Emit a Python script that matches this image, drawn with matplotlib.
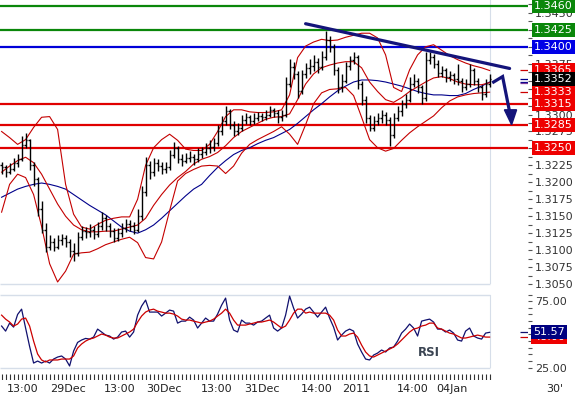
import numpy as np
import matplotlib
matplotlib.use("Agg")
import matplotlib.pyplot as plt
from matplotlib.transforms import blended_transform_factory
from matplotlib.patches import Polygon
from matplotlib.ticker import FuncFormatter, FixedLocator

# ---------------- data (hourly bars, EUR/USD-like 30' chart) ----------------
opens = [1.3225, 1.3222, 1.3215, 1.3220, 1.3228, 1.3235, 1.3255, 1.3262, 1.3225, 1.3205,
         1.3160, 1.3130, 1.3105, 1.3112, 1.3105, 1.3115, 1.3118, 1.3112, 1.3098, 1.3095,
         1.3120, 1.3128, 1.3126, 1.3130, 1.3124, 1.3135, 1.3148, 1.3135, 1.3128, 1.3118,
         1.3125, 1.3132, 1.3138, 1.3135, 1.3130, 1.3150, 1.3185, 1.3225, 1.3215, 1.3228,
         1.3224, 1.3220, 1.3222, 1.3240, 1.3250, 1.3235, 1.3232, 1.3236, 1.3238, 1.3235,
         1.3242, 1.3245, 1.3250, 1.3252, 1.3258, 1.3275, 1.3290, 1.3305, 1.3285, 1.3275,
         1.3280, 1.3292, 1.3296, 1.3290, 1.3295, 1.3298, 1.3296, 1.3300, 1.3306, 1.3302,
         1.3296, 1.3300, 1.3345, 1.3370, 1.3360, 1.3335, 1.3360, 1.3368, 1.3372, 1.3378,
         1.3370, 1.3385, 1.3410, 1.3400, 1.3365, 1.3340, 1.3350, 1.3372, 1.3380, 1.3385,
         1.3345, 1.3322, 1.3295, 1.3280, 1.3290, 1.3295, 1.3300, 1.3292, 1.3270, 1.3295,
         1.3305, 1.3315, 1.3322, 1.3345, 1.3350, 1.3340, 1.3325, 1.3380, 1.3385, 1.3375,
         1.3362, 1.3365, 1.3355, 1.3358, 1.3352, 1.3350, 1.3340, 1.3345, 1.3365, 1.3350,
         1.3340, 1.3330, 1.3345]
highs = [1.3230, 1.3226, 1.3228, 1.3236, 1.3242, 1.3268, 1.3273, 1.3264, 1.3230, 1.3208,
         1.3172, 1.3140, 1.3122, 1.3118, 1.3122, 1.3124, 1.3122, 1.3116, 1.3110, 1.3126,
         1.3136, 1.3134, 1.3138, 1.3135, 1.3142, 1.3156, 1.3152, 1.3140, 1.3132, 1.3132,
         1.3140, 1.3146, 1.3144, 1.3142, 1.3160, 1.3195, 1.3238, 1.3232, 1.3236, 1.3234,
         1.3230, 1.3230, 1.3248, 1.3259, 1.3254, 1.3242, 1.3244, 1.3246, 1.3242, 1.3250,
         1.3252, 1.3258, 1.3262, 1.3265, 1.3284, 1.3298, 1.3312, 1.3308, 1.3290, 1.3288,
         1.3300, 1.3302, 1.3300, 1.3302, 1.3304, 1.3302, 1.3306, 1.3312, 1.3310, 1.3306,
         1.3306, 1.3355, 1.3382, 1.3378, 1.3364, 1.3366, 1.3376, 1.3382, 1.3388, 1.3384,
         1.3394, 1.3423, 1.3416, 1.3404, 1.3370, 1.3360, 1.3378, 1.3386, 1.3392, 1.3388,
         1.3350, 1.3328, 1.3300, 1.3298, 1.3302, 1.3306, 1.3304, 1.3296, 1.3302, 1.3312,
         1.3322, 1.3330, 1.3355, 1.3360, 1.3354, 1.3344, 1.3392, 1.3392, 1.3390, 1.3380,
         1.3372, 1.3368, 1.3364, 1.3362, 1.3375, 1.3354, 1.3352, 1.3375, 1.3368, 1.3354,
         1.3344, 1.3352, 1.3360]
lows = [1.3212, 1.3208, 1.3212, 1.3216, 1.3222, 1.3232, 1.3250, 1.3218, 1.3194, 1.3150,
        1.3125, 1.3097, 1.3100, 1.3098, 1.3102, 1.3108, 1.3104, 1.3090, 1.3084, 1.3092,
        1.3115, 1.3118, 1.3120, 1.3116, 1.3120, 1.3130, 1.3128, 1.3120, 1.3112, 1.3114,
        1.3120, 1.3126, 1.3128, 1.3124, 1.3126, 1.3145, 1.3180, 1.3205, 1.3210, 1.3216,
        1.3212, 1.3214, 1.3218, 1.3236, 1.3228, 1.3224, 1.3228, 1.3230, 1.3226, 1.3230,
        1.3236, 1.3240, 1.3244, 1.3246, 1.3254, 1.3270, 1.3285, 1.3278, 1.3268, 1.3270,
        1.3276, 1.3286, 1.3284, 1.3286, 1.3290, 1.3290, 1.3292, 1.3296, 1.3296, 1.3288,
        1.3290, 1.3296, 1.3340, 1.3352, 1.3325, 1.3330, 1.3354, 1.3360, 1.3364, 1.3362,
        1.3366, 1.3380, 1.3392, 1.3358, 1.3332, 1.3334, 1.3346, 1.3366, 1.3374, 1.3338,
        1.3314, 1.3288, 1.3275, 1.3276, 1.3284, 1.3288, 1.3284, 1.3253, 1.3265, 1.3290,
        1.3298, 1.3310, 1.3318, 1.3340, 1.3332, 1.3315, 1.3320, 1.3374, 1.3368, 1.3356,
        1.3356, 1.3348, 1.3350, 1.3345, 1.3344, 1.3334, 1.3336, 1.3340, 1.3344, 1.3334,
        1.3322, 1.3326, 1.3340]
closes = [1.3222, 1.3215, 1.3220, 1.3228, 1.3235, 1.3255, 1.3262, 1.3225, 1.3205, 1.3160,
          1.3130, 1.3105, 1.3112, 1.3105, 1.3115, 1.3118, 1.3112, 1.3098, 1.3095, 1.3120,
          1.3128, 1.3126, 1.3130, 1.3124, 1.3135, 1.3148, 1.3135, 1.3128, 1.3118, 1.3125,
          1.3132, 1.3138, 1.3135, 1.3130, 1.3150, 1.3185, 1.3225, 1.3215, 1.3228, 1.3224,
          1.3220, 1.3222, 1.3240, 1.3250, 1.3235, 1.3232, 1.3236, 1.3238, 1.3235, 1.3242,
          1.3245, 1.3250, 1.3252, 1.3258, 1.3275, 1.3290, 1.3305, 1.3285, 1.3275, 1.3280,
          1.3292, 1.3296, 1.3290, 1.3295, 1.3298, 1.3296, 1.3300, 1.3306, 1.3302, 1.3296,
          1.3300, 1.3345, 1.3370, 1.3360, 1.3335, 1.3360, 1.3368, 1.3372, 1.3378, 1.3370,
          1.3385, 1.3410, 1.3400, 1.3365, 1.3340, 1.3350, 1.3372, 1.3380, 1.3385, 1.3345,
          1.3322, 1.3295, 1.3280, 1.3290, 1.3295, 1.3300, 1.3292, 1.3270, 1.3295, 1.3305,
          1.3315, 1.3322, 1.3345, 1.3350, 1.3340, 1.3325, 1.3380, 1.3385, 1.3375, 1.3362,
          1.3365, 1.3355, 1.3358, 1.3352, 1.3350, 1.3340, 1.3345, 1.3365, 1.3350, 1.3340,
          1.3330, 1.3345, 1.3352]

# indicator lines, one value every two bars
bb_upper = [1.3275, 1.3266, 1.3256, 1.3263, 1.3281, 1.3296, 1.3297, 1.3278, 1.3197, 1.3153,
            1.3134, 1.3131, 1.3138, 1.3144, 1.3147, 1.3149, 1.3149, 1.3175, 1.3225, 1.3251,
            1.3263, 1.3271, 1.3262, 1.3249, 1.3247, 1.3247, 1.3256, 1.3275, 1.3297, 1.3307,
            1.3307, 1.3304, 1.3303, 1.3303, 1.3304, 1.3307, 1.3329, 1.3384, 1.3401, 1.3407,
            1.3411, 1.3409, 1.3410, 1.3414, 1.3417, 1.3420, 1.3420, 1.3413, 1.3388, 1.3340,
            1.3334, 1.3366, 1.3388, 1.3400, 1.3403, 1.3395, 1.3387, 1.3381, 1.3376, 1.3372,
            1.3369, 1.3365]
bb_mid = [1.3215, 1.3224, 1.3232, 1.3237, 1.3229, 1.3212, 1.3190, 1.3168, 1.3150, 1.3137,
          1.3130, 1.3127, 1.3127, 1.3128, 1.3128, 1.3131, 1.3134, 1.3137, 1.3147, 1.3166,
          1.3182, 1.3196, 1.3207, 1.3216, 1.3227, 1.3234, 1.3238, 1.3244, 1.3254, 1.3266,
          1.3275, 1.3281, 1.3287, 1.3293, 1.3296, 1.3297, 1.3301, 1.3322, 1.3345, 1.3360,
          1.3369, 1.3373, 1.3376, 1.3378, 1.3378, 1.3369, 1.3348, 1.3334, 1.3322, 1.3318,
          1.3325, 1.3334, 1.3341, 1.3348, 1.3354, 1.3356, 1.3353, 1.3348, 1.3345, 1.3344,
          1.3344, 1.3347]
bb_lower = [1.3156, 1.3197, 1.3212, 1.3207, 1.3182, 1.3135, 1.3080, 1.3053, 1.3069, 1.3094,
            1.3096, 1.3097, 1.3102, 1.3108, 1.3112, 1.3116, 1.3119, 1.3111, 1.3089, 1.3087,
            1.3112, 1.3158, 1.3202, 1.3213, 1.3219, 1.3224, 1.3225, 1.3224, 1.3213, 1.3224,
            1.3243, 1.3256, 1.3263, 1.3269, 1.3275, 1.3282, 1.3271, 1.3256, 1.3285, 1.3316,
            1.3332, 1.3337, 1.3338, 1.3340, 1.3328, 1.3296, 1.3263, 1.3251, 1.3246, 1.3250,
            1.3262, 1.3273, 1.3282, 1.3290, 1.3298, 1.3310, 1.3320, 1.3326, 1.3329, 1.3331,
            1.3332, 1.3333]
ma_blue = [1.3178, 1.3184, 1.3190, 1.3194, 1.3197, 1.3199, 1.3197, 1.3194, 1.3190, 1.3182,
           1.3174, 1.3166, 1.3159, 1.3152, 1.3143, 1.3134, 1.3128, 1.3125, 1.3130, 1.3137,
           1.3147, 1.3158, 1.3169, 1.3180, 1.3190, 1.3197, 1.3210, 1.3222, 1.3232, 1.3241,
           1.3247, 1.3251, 1.3257, 1.3262, 1.3266, 1.3272, 1.3278, 1.3287, 1.3297, 1.3307,
           1.3316, 1.3326, 1.3335, 1.3342, 1.3348, 1.3351, 1.3351, 1.3350, 1.3348, 1.3345,
           1.3342, 1.3338, 1.3334, 1.3331, 1.3329, 1.3329, 1.3328, 1.3328, 1.3331, 1.3337,
           1.3342, 1.3348]

rsi = [56.3, 52.5, 58.5, 55.5, 65.0, 69.0, 54.8, 41.0, 28.5, 30.0,
       28.5, 30.0, 28.5, 31.5, 33.0, 33.8, 31.5, 26.3, 37.5, 44.0,
       45.8, 47.0, 46.5, 48.0, 54.0, 51.8, 49.5, 48.8, 46.5, 48.0,
       51.8, 52.5, 48.0, 51.8, 64.5, 71.3, 75.8, 66.8, 66.8, 66.8,
       63.8, 66.0, 68.3, 67.5, 58.5, 60.0, 60.0, 63.0, 60.8, 54.8,
       58.5, 62.3, 60.0, 60.0, 65.3, 72.0, 77.3, 60.8, 53.3, 51.8,
       60.8, 58.5, 58.5, 57.0, 59.3, 60.0, 62.3, 64.5, 54.8, 52.5,
       54.8, 64.5, 78.8, 69.8, 62.3, 65.3, 69.0, 70.5, 66.8, 63.0,
       66.8, 70.5, 62.3, 55.5, 45.8, 49.5, 52.5, 54.0, 52.5, 42.8,
       36.8, 31.5, 30.8, 34.5, 36.0, 38.3, 36.8, 39.8, 40.5, 45.0,
       51.0, 54.0, 57.8, 54.8, 48.8, 60.0, 60.8, 61.5, 59.3, 54.0,
       54.0, 51.8, 53.3, 51.0, 45.8, 45.0, 52.5, 54.8, 48.8, 47.3,
       46.5, 51.0, 51.57]
rsi_ma = [64.5, 61.5, 59.3, 56.3, 57.8, 61.5, 62.3, 56.3, 45.0, 35.3,
          30.8, 29.3, 30.8, 30.8, 30.8, 31.5, 31.5, 31.5, 33.8, 39.8,
          42.8, 45.0, 46.5, 47.3, 48.8, 50.3, 49.5, 48.0, 47.3, 47.3,
          48.8, 50.3, 51.8, 54.0, 59.3, 63.8, 66.8, 68.3, 69.0, 67.5,
          66.8, 66.0, 66.0, 65.3, 63.8, 61.5, 60.8, 60.8, 60.0, 59.3,
          58.5, 59.3, 60.0, 61.5, 63.8, 66.0, 69.0, 66.0, 60.8, 57.0,
          57.0, 57.0, 57.8, 58.5, 59.3, 59.3, 60.0, 60.8, 59.3, 57.0,
          54.8, 56.3, 60.8, 66.0, 69.0, 69.0, 66.0, 66.8, 66.0, 66.0,
          66.0, 66.0, 64.5, 60.8, 53.3, 48.8, 48.8, 50.3, 51.0, 48.0,
          42.0, 36.8, 33.8, 33.0, 34.5, 36.0, 37.5, 39.0, 40.5, 42.8,
          45.8, 48.8, 51.8, 54.0, 54.8, 56.3, 57.0, 58.5, 58.5, 54.8,
          54.0, 52.5, 51.0, 50.3, 48.8, 47.3, 47.3, 48.0, 48.8, 49.5,
          48.8, 48.0, 48.0]

level_values = [1.3460, 1.3425, 1.3400, 1.3315, 1.3285, 1.3250]
level_colors = ['#0a870a', '#0a870a', '#0000d8', '#e00000', '#e00000', '#e00000']

box_labels = ['1.3460', '1.3425', '1.3400', '1.3365', '1.3333', '1.3315', '1.3285', '1.3250', '1.3352']
box_values = [1.3460, 1.3425, 1.3400, 1.3365, 1.3333, 1.3315, 1.3285, 1.3250, 1.3352]
box_colors = ['#0a870a', '#0a870a', '#0000e6', '#ee0000', '#ee0000', '#ee0000', '#ee0000', '#ee0000', '#000000']

# axis labels that sit fully behind a value box in the reference
hidden_price_labels = ['1.3250', '1.3325', '1.3350', '1.3400', '1.3425']

trend_x = [76, 127]
trend_y = [1.3434, 1.3368]
arrow_x = [123, 125.25, 127]
arrow_y = [1.3348, 1.3356, 1.3304]
head_x = [125.7, 128.75, 127.5]
head_y = [1.3307, 1.3307, 1.3285]

time_labels = ['13:00', '29Dec', '13:00', '30Dec', '13:00', '31Dec', '14:00', '2011', '14:00', '04Jan']
time_pos = [5.25, 16.6, 29.4, 40.5, 53.75, 65.0, 78.75, 88.75, 102.75, 112.5]

# ---------------- layout ----------------
W, H = 576, 398
fig = plt.figure(figsize=(W / 100, H / 100), dpi=100)
fig.patch.set_facecolor('white')


def rect(x0, y0, x1, y1):
    return [x0 / W, 1 - y1 / H, (x1 - x0) / W, (y1 - y0) / H]


ax = fig.add_axes(rect(0, 0, 528, 284))
ax_r = fig.add_axes(rect(0, 294.5, 528, 367.7))
ax_t = fig.add_axes(rect(0, 374, 528, 380))

XL = (-0.4, 131.6)
GRID = '#d6dee9'
NAVY = '#14147a'

x = np.arange(len(closes))
bx = np.arange(0, len(closes), 2)

# ---------------- main price panel ----------------
ax.set_xlim(*XL)
ax.set_ylim(1.3050, 1.3469)
for s in ax.spines.values():
    s.set_visible(False)
ax.set_xticks([])
ax.yaxis.tick_right()
ax.yaxis.set_major_locator(FixedLocator(np.round(np.arange(1.3050, 1.34601, 0.0025), 4)))
ax.yaxis.set_minor_locator(FixedLocator(np.round(np.arange(1.30625, 1.3469, 0.0025), 5)))


def price_fmt(v, pos):
    s = f'{v:.4f}'
    return '' if s in hidden_price_labels else s


ax.yaxis.set_major_formatter(FuncFormatter(price_fmt))
ax.tick_params(axis='y', which='both', direction='out', length=3, width=0.8,
               colors='#555555', labelcolor='#333333', labelsize=8, pad=2)

ax.axvline(122, color=GRID, lw=0.8, zorder=0)
ax.hlines(1.3050, XL[0], 122, color=GRID, lw=1.0, clip_on=False, zorder=0)

for v, c in zip(level_values, level_colors):
    ax.axhline(v, color=c, lw=1.6, zorder=2)

ax.plot(bx, ma_blue, color='#00008b', lw=0.8, zorder=2.2)
ax.plot(bx, bb_upper, color='#c40000', lw=0.8, zorder=2.2)
ax.plot(bx, bb_mid, color='#c40000', lw=0.8, zorder=2.2)
ax.plot(bx, bb_lower, color='#c40000', lw=0.8, zorder=2.2)

ax.vlines(x, lows, highs, color='black', lw=1.0, zorder=3)
ax.hlines(opens, x - 0.45, x, color='black', lw=1.0, zorder=3)
ax.hlines(closes, x, x + 0.45, color='black', lw=1.0, zorder=3)

ax.plot(trend_x, trend_y, color=NAVY, lw=2.3, solid_capstyle='round', zorder=4)
ax.plot(arrow_x, arrow_y, color=NAVY, lw=2.3, solid_joinstyle='miter', zorder=4)
ax.add_patch(Polygon(list(zip(head_x, head_y)), closed=True, fc=NAVY, ec=NAVY, zorder=4))

ax.hlines([bb_upper[-1], closes[-1], ma_blue[-1], bb_mid[-1], bb_lower[-1]], 129.5, 131.6,
          colors=['#cc0000', '#00008b', '#00008b', '#7a3a9a', '#cc0000'], lw=0.9, zorder=2)

trans = blended_transform_factory(fig.transFigure, ax.transData)
for lab, v, c in zip(box_labels, box_values, box_colors):
    ax.text(553.5 / W, v, lab, transform=trans, ha='center', va='center', color='white',
            fontsize=8, zorder=6, clip_on=False,
            bbox=dict(boxstyle='square,pad=0.18', fc=c, ec='none'))

# ---------------- RSI panel ----------------
ax_r.set_xlim(*XL)
ax_r.set_ylim(25, 80)
for s in ax_r.spines.values():
    s.set_visible(False)
ax_r.set_xticks([])
ax_r.yaxis.tick_right()
ax_r.yaxis.set_major_locator(FixedLocator([25, 75]))
ax_r.yaxis.set_minor_locator(FixedLocator(np.arange(30, 81, 5)))
ax_r.yaxis.set_major_formatter(FuncFormatter(lambda v, p: f'{v:.2f}'))
ax_r.tick_params(axis='y', which='both', direction='out', length=3, width=0.8,
                 colors='#555555', labelcolor='#333333', labelsize=8, pad=2)
ax_r.hlines([80, 25], XL[0], 122, color=GRID, lw=1.0, clip_on=False, zorder=0)
ax_r.axvline(122, color=GRID, lw=0.8, zorder=0)

ax_r.plot(x, rsi, color='#10106e', lw=0.9, zorder=3)
ax_r.plot(x, rsi_ma, color='#cc0000', lw=0.9, zorder=3)
ax_r.text(106.75, 36.5, 'RSI', fontsize=8.5, fontweight='bold', color='#3a4452',
          ha='center', va='center')
ax_r.hlines([rsi[-1], rsi_ma[-1]], 129.5, 131.6, colors=['#10106e', '#cc0000'], lw=0.9)

trans_r = blended_transform_factory(fig.transFigure, ax_r.transData)
ax_r.text(549 / W, rsi_ma[-1], f'{rsi_ma[-1]:.2f}', transform=trans_r, ha='center', va='center',
          color='white', fontsize=8, zorder=6, clip_on=False,
          bbox=dict(boxstyle='square,pad=0.18', fc='#ee0000', ec='none'))
ax_r.text(549 / W, rsi[-1], f'{rsi[-1]:.2f}', transform=trans_r, ha='center', va='center',
          color='white', fontsize=8, zorder=7, clip_on=False,
          bbox=dict(boxstyle='square,pad=0.18', fc='#000080', ec='none'))

# ---------------- time axis row ----------------
ax_t.set_xlim(*XL)
ax_t.set_ylim(0, 1)
for s in ax_t.spines.values():
    s.set_visible(False)
ax_t.set_yticks([])
ax_t.patch.set_alpha(0)
ax_t.vlines(x, 0, 1, color='#333333', lw=0.8)
ax_t.set_xticks(time_pos)
ax_t.set_xticklabels(time_labels)
ax_t.tick_params(axis='x', length=0, pad=3, labelsize=8, labelcolor='#222222')

fig.text(555 / W, 1 - 389 / H, "30'", ha='center', va='center', fontsize=8, color='#222222')

fig.savefig('out.png', dpi=100, facecolor='white')
